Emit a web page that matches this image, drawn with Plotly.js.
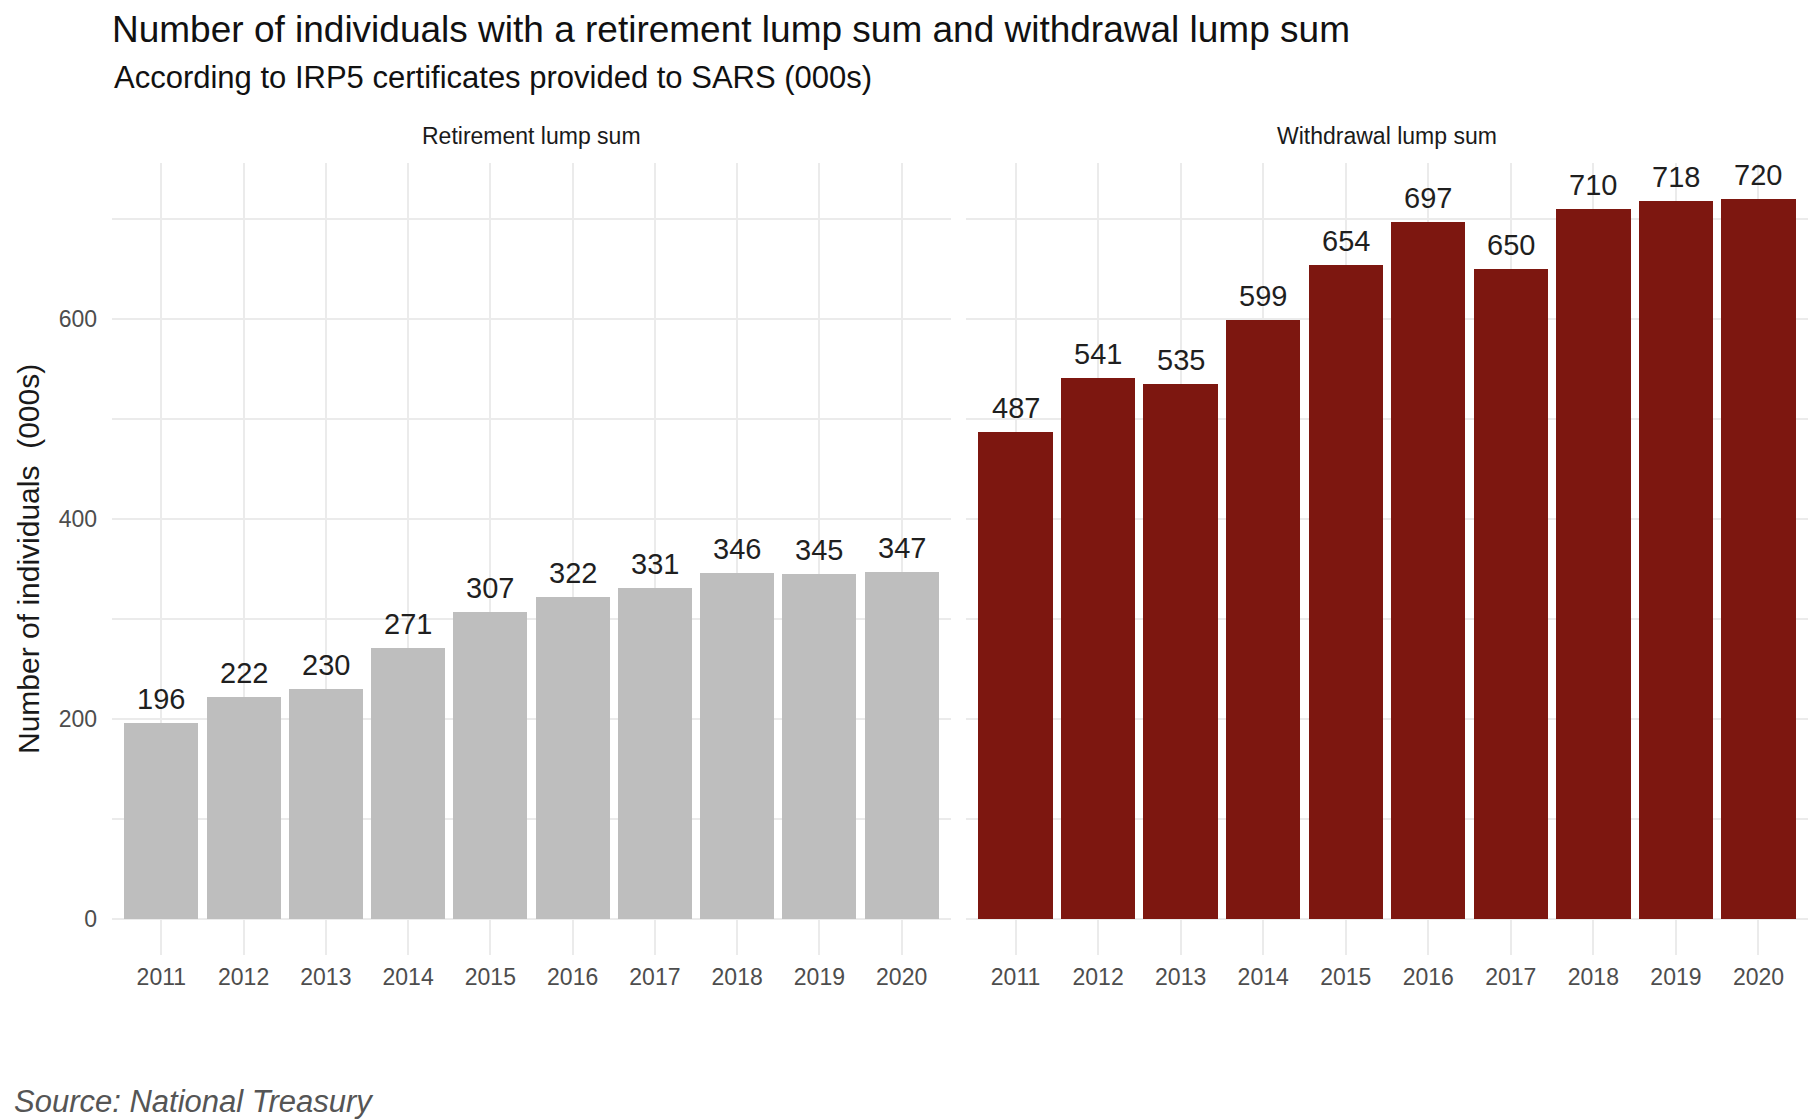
<!DOCTYPE html>
<html>
<head>
<meta charset="utf-8">
<script src="https://cdn.plot.ly/plotly-3.0.1.min.js"></script>
<style>
  html, body { margin: 0; padding: 0; background: #fff; }
  #chart { width: 1808px; height: 1120px; }
</style>
</head>
<body>
<div id="chart"></div>
<script>
// data (000s)
const years = ["2011", "2012", "2013", "2014", "2015", "2016", "2017", "2018", "2019", "2020"];
const retirementLumpSum = [196, 222, 230, 271, 307, 322, 331, 346, 345, 347];
const withdrawalLumpSum = [487, 541, 535, 599, 654, 697, 650, 710, 718, 720];
const yTicks = [0, 200, 400, 600];

const W = 1808, H = 1120;
const FONT = "Liberation Sans, Arial, sans-serif";
const px = v => v / W;          // x pixel -> paper
const py = v => 1 - v / H;      // y pixel -> paper

// --- traces ---
const traces = [
    {
        x: years, y: retirementLumpSum, type: "bar", name: "Retirement lump sum",
        xaxis: "x", yaxis: "y", width: 0.9,
        marker: { color: "#bebebe" }, hoverinfo: "x+y"
    },
    {
        x: years, y: withdrawalLumpSum, type: "bar", name: "Withdrawal lump sum",
        xaxis: "x2", yaxis: "y2", width: 0.9,
        marker: { color: "#7d1710" }, hoverinfo: "x+y"
    }
];

// value labels above the bars
const barLabels = (vals, xref, yref) => vals.map((v, i) => ({
    xref: xref, yref: yref, x: i, y: v, text: String(v),
    showarrow: false, yshift: 24, yanchor: "middle", xanchor: "center",
    font: { family: FONT, size: 29, color: "#1f1f1f" }
}));

const gridColor = "#ebebeb";
const xAxisBase = {
    type: "category", range: [-0.6, 9.6], fixedrange: true,
    showgrid: true, gridcolor: gridColor, gridwidth: 1.8,
    zeroline: false, showline: false, ticks: "",
    ticklabelstandoff: 6,
    tickfont: { family: FONT, size: 23, color: "#4d4d4d" }
};
const yAxisBase = {
    range: [-36, 756], fixedrange: true,
    tickmode: "array", tickvals: yTicks,
    showgrid: true, gridcolor: gridColor, gridwidth: 1.8,
    minor: { tick0: 0, dtick: 100, showgrid: true, gridcolor: gridColor, gridwidth: 1.8, ticks: "" },
    zeroline: false, showline: false, ticks: "",
    tickfont: { family: FONT, size: 23, color: "#4d4d4d" }
};

const textNotes = [
    {
        xref: "paper", yref: "paper", x: px(112), y: py(78), xanchor: "left", yanchor: "middle",
        text: "According to IRP5 certificates provided to SARS (000s)", showarrow: false,
        font: { family: FONT, size: 31, color: "#111111" }
    },
    // facet strips
    {
        xref: "paper", yref: "paper", x: px(531), y: py(136), xanchor: "center", yanchor: "middle",
        text: "Retirement lump sum", showarrow: false,
        font: { family: FONT, size: 23, color: "#1a1a1a" }
    },
    {
        xref: "paper", yref: "paper", x: px(1387), y: py(136), xanchor: "center", yanchor: "middle",
        text: "Withdrawal lump sum", showarrow: false,
        font: { family: FONT, size: 23, color: "#1a1a1a" }
    },
    // y axis title
    {
        xref: "paper", yref: "paper", x: px(28), y: py(559), xanchor: "center", yanchor: "middle",
        text: "Number of individuals  (000s)", textangle: -90, showarrow: false,
        font: { family: FONT, size: 30, color: "#1a1a1a" }
    },
    // source
    {
        xref: "paper", yref: "paper", x: px(12), y: py(1101), xanchor: "left", yanchor: "middle",
        text: "<i>Source: National Treasury</i>", showarrow: false,
        font: { family: FONT, size: 31, color: "#555555" }
    }
];

const layout = {
    width: W, height: H,
    margin: { l: 0, r: 0, t: 0, b: 0 },
    paper_bgcolor: "#ffffff", plot_bgcolor: "#ffffff",
    showlegend: false,
    bargap: 0,
    font: { family: FONT },
    title: {
        text: "Number of individuals with a retirement lump sum and withdrawal lump sum",
        xref: "paper", yref: "paper", x: px(112), xanchor: "left", y: py(29), yanchor: "middle",
        font: { family: FONT, size: 37, color: "#111111" }
    },
    xaxis: Object.assign({}, xAxisBase, { domain: [px(112), px(951)], anchor: "y" }),
    xaxis2: Object.assign({}, xAxisBase, { domain: [px(966), 1], anchor: "y2" }),
    yaxis: Object.assign({}, yAxisBase, {
        domain: [py(955), py(163)], anchor: "x",
        ticklabelstandoff: 14
    }),
    yaxis2: Object.assign({}, yAxisBase, {
        domain: [py(955), py(163)], anchor: "x2", showticklabels: false
    }),
    annotations: textNotes
        .concat(barLabels(retirementLumpSum, "x", "y"))
        .concat(barLabels(withdrawalLumpSum, "x2", "y2"))
};

Plotly.newPlot("chart", traces, layout, { displayModeBar: false });
</script>
</body>
</html>
